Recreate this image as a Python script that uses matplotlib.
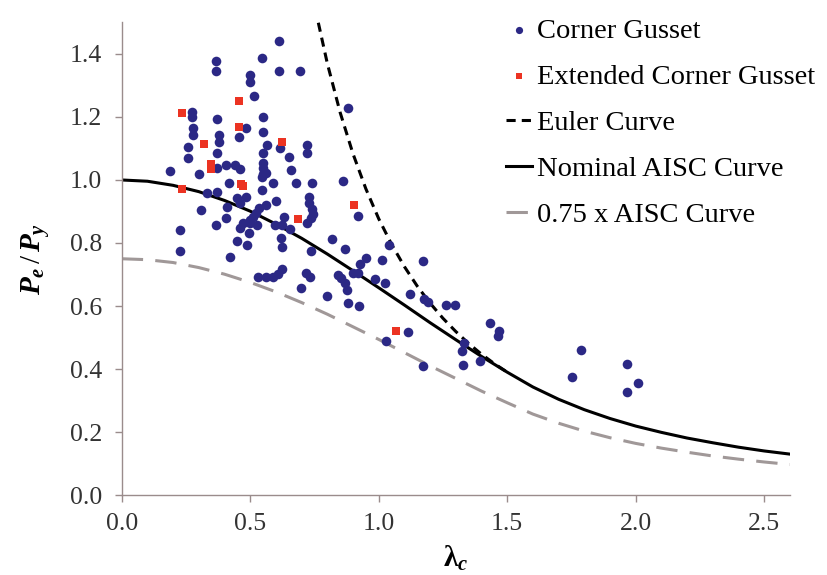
import matplotlib
matplotlib.use("Agg")
import matplotlib.pyplot as plt
from matplotlib.ticker import FormatStrFormatter

plt.rcParams["font.family"] = ["Liberation Serif", "DejaVu Serif"]
plt.rcParams["mathtext.fontset"] = "custom"
plt.rcParams["mathtext.rm"] = "Liberation Serif"
plt.rcParams["mathtext.it"] = "Liberation Serif:italic:bold"
plt.rcParams["mathtext.bf"] = "Liberation Serif:bold"

# Corner Gusset test points (lambda_c, Pe/Py)
corner_x = [
    0.612, 0.547, 0.365, 0.365, 0.612, 0.693, 0.501, 0.501, 0.515, 0.881,
    0.274, 0.274, 0.371, 0.550, 0.482, 0.277, 0.277, 0.456, 0.550, 0.377,
    0.377, 0.256, 0.565, 0.615, 0.721, 0.721, 0.371, 0.550, 0.651, 0.256,
    0.550, 0.372, 0.404, 0.440, 0.462, 0.550, 0.187, 0.301, 0.658, 0.550,
    0.563, 0.416, 0.547, 0.589, 0.677, 0.740, 0.861, 0.330, 0.371, 0.450,
    0.485, 0.546, 0.462, 0.599, 0.727, 0.730, 0.742, 0.745, 0.735, 0.720,
    0.310, 0.411, 0.560, 0.534, 0.524, 0.511, 0.498, 0.470, 0.407, 0.498,
    0.526, 0.459, 0.495, 0.366, 0.226, 0.595, 0.630, 0.625, 0.654, 0.919,
    0.621, 0.625, 0.449, 0.488, 0.818, 0.868, 0.735, 0.226, 0.423, 0.625,
    0.608, 0.589, 0.563, 0.530, 0.719, 0.732, 0.842, 0.855, 0.868, 0.877,
    0.900, 0.919, 0.696, 0.799, 0.881, 0.923, 1.040, 0.952, 0.926, 1.011,
    1.172, 0.984, 1.023, 1.121, 1.175, 1.192, 1.260, 1.296, 1.114, 1.027,
    1.432, 1.468, 1.465, 1.331, 1.326, 1.328, 1.393, 1.171, 1.789, 1.752,
    1.968, 2.009, 1.968,
]
corner_y = [
    1.442, 1.386, 1.376, 1.347, 1.346, 1.346, 1.333, 1.310, 1.267, 1.228,
    1.215, 1.201, 1.194, 1.199, 1.166, 1.166, 1.143, 1.137, 1.153, 1.143,
    1.122, 1.104, 1.111, 1.101, 1.111, 1.087, 1.087, 1.085, 1.074, 1.071,
    1.053, 1.037, 1.048, 1.047, 1.035, 1.037, 1.029, 1.019, 1.032, 1.019,
    1.023, 0.991, 1.009, 0.990, 0.991, 0.991, 0.997, 0.960, 0.963, 0.942,
    0.947, 0.968, 0.926, 0.934, 0.947, 0.926, 0.907, 0.892, 0.878, 0.863,
    0.905, 0.913, 0.921, 0.910, 0.894, 0.883, 0.873, 0.864, 0.880, 0.863,
    0.857, 0.847, 0.833, 0.857, 0.841, 0.857, 0.882, 0.857, 0.843, 0.886,
    0.815, 0.788, 0.807, 0.794, 0.813, 0.781, 0.775, 0.775, 0.755, 0.717,
    0.702, 0.693, 0.691, 0.693, 0.706, 0.693, 0.698, 0.688, 0.672, 0.651,
    0.704, 0.704, 0.658, 0.632, 0.610, 0.600, 0.794, 0.751, 0.733, 0.746,
    0.744, 0.686, 0.674, 0.638, 0.622, 0.614, 0.603, 0.603, 0.517, 0.489,
    0.545, 0.521, 0.506, 0.483, 0.457, 0.413, 0.425, 0.410, 0.460, 0.374,
    0.415, 0.357, 0.326,
]

# Extended Corner Gusset test points
ext_x = [0.455, 0.233, 0.455, 0.320, 0.624, 0.346, 0.346, 0.463, 0.472,
         0.233, 0.684, 0.903, 1.066]
ext_y = [1.251, 1.212, 1.167, 1.114, 1.120, 1.051, 1.035, 0.987, 0.981,
         0.971, 0.876, 0.921, 0.522]

# Nominal AISC column curve, read at steps of 0.1
aisc_x = [0.0, 0.1, 0.2, 0.3, 0.4, 0.5, 0.6, 0.7, 0.8, 0.9, 1.0, 1.1, 1.2,
          1.3, 1.4, 1.5, 1.6, 1.7, 1.8, 1.9, 2.0, 2.1, 2.2, 2.3, 2.4, 2.5, 2.6]
aisc_y = [1.000, 0.996, 0.983, 0.963, 0.935, 0.901, 0.860, 0.815, 0.765,
          0.712, 0.658, 0.603, 0.547, 0.493, 0.440, 0.390, 0.343, 0.304,
          0.271, 0.243, 0.219, 0.199, 0.181, 0.166, 0.152, 0.140, 0.130]
aisc75_y = [0.750, 0.747, 0.738, 0.722, 0.701, 0.675, 0.645, 0.611, 0.574,
            0.534, 0.494, 0.452, 0.410, 0.370, 0.330, 0.293, 0.257, 0.228,
            0.203, 0.182, 0.164, 0.149, 0.136, 0.124, 0.114, 0.105, 0.097]

# Euler curve
euler_x = [0.765, 0.80, 0.85, 0.90, 0.95, 1.00, 1.05, 1.10, 1.15, 1.20,
           1.25, 1.30, 1.35, 1.40, 1.45, 1.50]
euler_y = [1.499, 1.370, 1.214, 1.083, 0.972, 0.877, 0.796, 0.725, 0.663,
           0.609, 0.561, 0.519, 0.481, 0.447, 0.417, 0.390]

fig = plt.figure(figsize=(8.28, 5.75), dpi=100)
ax = fig.add_axes([0.147, 0.139, 0.807, 0.822])

ax.plot(euler_x, euler_y, color="black", lw=2.2, ls=(0, (3, 2)),
        label="Euler Curve", zorder=2)
ax.plot(aisc_x, aisc_y, color="black", lw=2.2, label="Nominal AISC Curve",
        zorder=2)
ax.plot(aisc_x, aisc75_y, color="#a09898", lw=2.2, ls=(0, (7, 4)),
        label="0.75 x AISC Curve", zorder=2)
ax.scatter(corner_x, corner_y, s=48, color="#2b2885", marker="o",
           linewidths=0, label="Corner Gusset", zorder=3)
ax.scatter(ext_x, ext_y, s=40, color="#ec3322", marker="s",
           linewidths=0, label="Extended Corner Gusset", zorder=4)

ax.set_xlim(0, 2.6)
ax.set_ylim(0, 1.5)
ax.set_xticks([0.0, 0.5, 1.0, 1.5, 2.0, 2.5])
ax.set_yticks([0.0, 0.2, 0.4, 0.6, 0.8, 1.0, 1.2, 1.4])
ax.xaxis.set_major_formatter(FormatStrFormatter("%.1f"))
ax.yaxis.set_major_formatter(FormatStrFormatter("%.1f"))

for side in ["top", "right"]:
    ax.spines[side].set_visible(False)
for side in ["left", "bottom"]:
    ax.spines[side].set_color("#9a8c8c")
    ax.spines[side].set_linewidth(1.0)
ax.tick_params(direction="out", length=5, width=1, color="#9a8c8c",
               labelsize=18.5, labelcolor="#333333")
ax.tick_params(axis="x", pad=8)
ax.tick_params(axis="y", pad=9)

ax.set_ylabel(r"$P_e\,/\,P_y$", fontsize=21, labelpad=13)
ax.set_xlabel(r"$\mathbf{\lambda}_{c}$", fontsize=21, labelpad=6)

handles, labels = ax.get_legend_handles_labels()
order = [3, 4, 0, 1, 2]
ax.legend([handles[i] for i in order], [labels[i] for i in order],
          loc="upper left", bbox_to_anchor=(0.594, 0.994),
          bbox_transform=fig.transFigure, frameon=False, fontsize=20.5,
          handlelength=0.9, handletextpad=0.2, labelspacing=0.71,
          borderpad=0, markerscale=0.75)

fig.savefig("out.png", dpi=100)
